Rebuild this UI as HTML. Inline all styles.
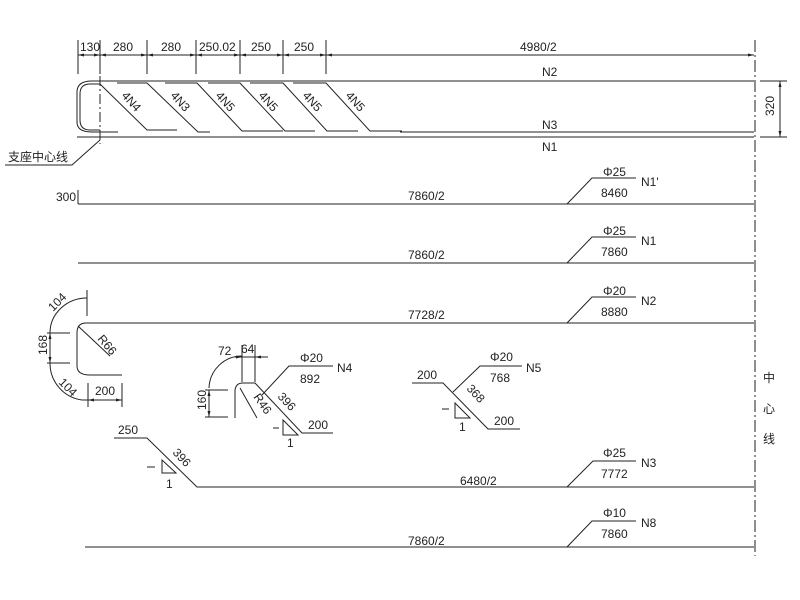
<!DOCTYPE html>
<html><head><meta charset="utf-8"><style>
html,body{margin:0;padding:0;background:#fff;}
svg{display:block;}
text{font-family:"Liberation Sans","Noto Sans CJK SC",sans-serif;font-size:12px;fill:#222;}
</style></head><body>
<svg width="800" height="600" viewBox="0 0 800 600" xmlns="http://www.w3.org/2000/svg">
<g stroke="#222" stroke-width="1" fill="none">
<!-- top dimension -->
<line x1="78" y1="55" x2="754" y2="55"/>
<line x1="78" y1="40" x2="78" y2="74"/>
<line x1="100" y1="40" x2="100" y2="74"/>
<line x1="147" y1="40" x2="147" y2="74"/>
<line x1="196" y1="40" x2="196" y2="74"/>
<line x1="240" y1="40" x2="240" y2="74"/>
<line x1="283" y1="40" x2="283" y2="74"/>
<line x1="326" y1="40" x2="326" y2="74"/>
<!-- beam -->
<path d="M754 81 H92 Q77 81 77 92 V122 Q77 132 92 132 H118"/>
<path d="M100 84 H90 Q80 84 80 94 V120 Q80 130 90 130 H100"/>
<line x1="77" y1="137" x2="754" y2="137"/>
<line x1="400" y1="132" x2="754" y2="132"/>
<!-- diagonals -->
<path d="M100 84 L147 130 H177"/>
<path d="M117 83 H147 L198 132 H210"/>
<path d="M165 83 H197 L242 131 H283"/>
<path d="M208 83 H240 L285 131 H315"/>
<path d="M250 83 H283 L327 131 H358"/>
<path d="M293 83 H326 L370 131 H402"/>
<!-- support centerline -->
<line x1="100" y1="40" x2="100" y2="144" stroke-dasharray="10,3,2,3"/>
<path d="M5 165 H72 L100 140"/>
<!-- 320 dim -->
<line x1="760" y1="81" x2="787" y2="81"/>
<line x1="760" y1="137" x2="787" y2="137"/>
<line x1="780" y1="81" x2="780" y2="137"/>
<!-- center line -->
<line x1="755" y1="40" x2="755" y2="556" stroke-dasharray="12,3,2,3"/>
<!-- N1' row -->
<line x1="78" y1="204" x2="754" y2="204"/>
<line x1="78" y1="190" x2="78" y2="204"/>
<path d="M567 204 L592 178 H636"/>
<!-- N1 row -->
<line x1="78" y1="263" x2="754" y2="263"/>
<path d="M567 263 L592 237 H636"/>
<!-- N2 row -->
<path d="M754 323 H86 Q77 323 77 333 V366 Q77 375 90 375 H122"/>
<path d="M567 323 L592 297 H636"/>
<line x1="87" y1="290" x2="87" y2="316"/>
<path d="M87 298 A37 35 0 0 0 50 333"/>
<path d="M50 363 A37 37 0 0 0 82 400"/>
<line x1="50" y1="333" x2="50" y2="363"/>
<line x1="47" y1="333" x2="70" y2="333"/>
<line x1="47" y1="363" x2="70" y2="363"/>
<line x1="88" y1="383" x2="88" y2="407"/>
<line x1="122" y1="383" x2="122" y2="407"/>
<line x1="82" y1="400" x2="122" y2="400"/>
<line x1="78" y1="326" x2="110" y2="356"/>
<!-- N4 -->
<path d="M235 418 V390 Q236 383 243 383 H255 L302 433 H333"/>
<path d="M262 395 L289 366 H333"/>
<line x1="240" y1="388" x2="257" y2="418"/>
<line x1="209" y1="390" x2="209" y2="417"/>
<line x1="205" y1="390" x2="228" y2="390"/>
<line x1="205" y1="417" x2="228" y2="417"/>
<path d="M209 388 A33 33 0 0 1 242 356"/>
<line x1="242" y1="345" x2="242" y2="382"/>
<line x1="255" y1="345" x2="255" y2="382"/>
<line x1="235" y1="357" x2="268" y2="357"/>
<path d="M283 420 V435 H298 Z"/>
<line x1="273" y1="428" x2="279" y2="428"/>
<!-- N5 -->
<path d="M412 383 H443 L488 429 H520"/>
<path d="M453 392 L480 366 H522"/>
<path d="M455 403 V418 H470 Z"/>
<line x1="442" y1="409" x2="449" y2="409"/>
<!-- N3 row -->
<path d="M114 438 H147 L197 487 H754"/>
<path d="M567 487 L593 461 H636"/>
<path d="M162 460 V473 H176 Z"/>
<line x1="147" y1="467" x2="155" y2="467"/>
<!-- N8 row -->
<line x1="85" y1="547" x2="754" y2="547"/>
<path d="M567 547 L592 521 H636"/>
</g>
<g fill="#222">
<path d="M78 55 l6 -1.5 v3z M100 55 l-6 -1.5 v3z M100 55 l6 -1.5 v3z M147 55 l-6 -1.5 v3z M147 55 l6 -1.5 v3z M196 55 l-6 -1.5 v3z M196 55 l6 -1.5 v3z M240 55 l-6 -1.5 v3z M240 55 l6 -1.5 v3z M283 55 l-6 -1.5 v3z M283 55 l6 -1.5 v3z M326 55 l-6 -1.5 v3z M326 55 l6 -1.5 v3z M754 55 l-6 -1.5 v3z"/>
<path d="M780 81 l-1.5 6 h3z M780 137 l-1.5 -6 h3z"/>
<path d="M50 333 l-1.5 6 h3z M50 363 l-1.5 -6 h3z M88 400 l6 -1.5 v3z M122 400 l-6 -1.5 v3z"/>
<path d="M209 390 l-1.5 6 h3z M209 417 l-1.5 -6 h3z M242 357 l-6 -1.5 v3z M255 357 l6 -1.5 v3z"/>
</g>
<g>
<text x="80" y="51">130</text>
<text x="113" y="51">280</text>
<text x="161" y="51">280</text>
<text x="199" y="51">250.02</text>
<text x="251" y="51">250</text>
<text x="294" y="51">250</text>
<text x="520" y="51">4980/2</text>
<text x="542" y="76">N2</text>
<text x="542" y="129">N3</text>
<text x="542" y="151">N1</text>
<text x="8" y="161" font-size="12">支座中心线</text>
<text x="56" y="201">300</text>
<text x="408" y="200">7860/2</text>
<text x="408" y="259">7860/2</text>
<text x="408" y="319">7728/2</text>
<text x="460" y="485">6480/2</text>
<text x="408" y="545">7860/2</text>
<text x="603" y="176">Φ25</text><text x="601" y="197">8460</text><text x="641" y="186">N1'</text>
<text x="603" y="235">Φ25</text><text x="601" y="256">7860</text><text x="641" y="245">N1</text>
<text x="603" y="295">Φ20</text><text x="601" y="316">8880</text><text x="641" y="305">N2</text>
<text x="603" y="457">Φ25</text><text x="601" y="478">7772</text><text x="641" y="467">N3</text>
<text x="603" y="517">Φ10</text><text x="601" y="538">7860</text><text x="641" y="527">N8</text>
<text x="300" y="362">Φ20</text><text x="300" y="383">892</text><text x="337" y="372">N4</text>
<text x="490" y="361">Φ20</text><text x="490" y="382">768</text><text x="526" y="372">N5</text>
<text x="417" y="379">200</text>
<text x="494" y="425">200</text>
<text x="308" y="429">200</text>
<text x="95" y="395">200</text>
<text x="118" y="434">250</text>
<text x="287" y="447">1</text>
<text x="459" y="431">1</text>
<text x="166" y="488">1</text>
<text x="218" y="355">72</text>
<text x="241" y="353">64</text>
<text x="763" y="382">中</text>
<text x="763" y="413">心</text>
<text x="763" y="443">线</text>
<text transform="translate(774,116) rotate(-90)">320</text>
<text transform="translate(47,355) rotate(-90)">168</text>
<text transform="translate(206,410) rotate(-90)">160</text>
<text transform="translate(53,312) rotate(-45)">104</text>
<text transform="translate(58,383) rotate(45)">104</text>
<text transform="translate(97,339) rotate(50)">R66</text>
<text transform="translate(253,397) rotate(55)">R46</text>
<text transform="translate(277,397) rotate(47)">396</text>
<text transform="translate(172,453) rotate(47)">396</text>
<text transform="translate(466,389) rotate(47)">368</text>
<text transform="translate(121,96) rotate(48)">4N4</text>
<text transform="translate(170,96) rotate(48)">4N3</text>
<text transform="translate(215,96) rotate(48)">4N5</text>
<text transform="translate(258,96) rotate(48)">4N5</text>
<text transform="translate(302,96) rotate(48)">4N5</text>
<text transform="translate(345,96) rotate(48)">4N5</text>
</g>
</svg>
</body></html>
